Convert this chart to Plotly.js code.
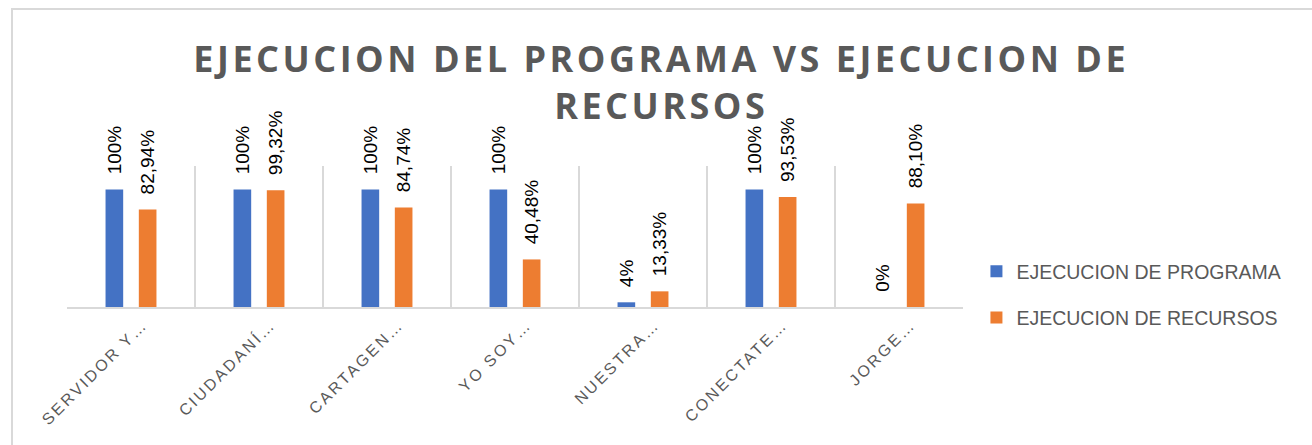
<!DOCTYPE html>
<html>
<head>
<meta charset="utf-8">
<script src="https://cdn.plot.ly/plotly-3.0.1.min.js"></script>
<style>
  html, body { margin: 0; padding: 0; background: #fff; }
  #wrap { position: relative; width: 1312px; height: 445px; overflow: hidden; }
  #frame { position: absolute; left: 11px; top: 8px; width: 1400px; height: 500px;
           border-left: 2px solid #d9d9d9; border-top: 2px solid #d9d9d9; pointer-events: none; }
  #chart { position: absolute; left: 0; top: 0; width: 1312px; height: 445px; }
  #chart .gtitle { letter-spacing: 3.5px; }
  #chart .xtick text { letter-spacing: 2.5px; }
</style>
</head>
<body>
<div id="wrap">
  <div id="chart"></div>
  <div id="frame"></div>
</div>
<script>
const categories = ["SERVIDOR Y…", "CIUDADANÍ…", "CARTAGEN…", "YO SOY…", "NUESTRA…", "CONECTATE…", "JORGE…"];
const ejecucionPrograma = [1, 1, 1, 1, 0.04, 1, 0];
const ejecucionRecursos = [0.8294, 0.9932, 0.8474, 0.4048, 0.1333, 0.9353, 0.8810];
const seriesNames = ["EJECUCION DE PROGRAMA", "EJECUCION DE RECURSOS"];
const titleText = "EJECUCION DEL PROGRAMA VS EJECUCION DE<br>RECURSOS";

const labelFont = {family: "Liberation Sans, Arial, sans-serif", size: 19, color: "#000000"};
const pad = "\u00a0\u00a0\u200a";

const traces = [
  {
    type: "bar", name: seriesNames[0], x: categories, y: ejecucionPrograma,
    marker: {color: "#4472C4"},
    texttemplate: pad + "%{y:.0%}", textposition: "outside", textangle: -90,
    textfont: labelFont, constraintext: "none", cliponaxis: false,
    legendgroup: "a", hoverinfo: "x+y"
  },
  {
    type: "bar", name: seriesNames[1], x: categories, y: ejecucionRecursos,
    marker: {color: "#ED7D31"},
    texttemplate: pad + "%{y:.2%}", textposition: "outside", textangle: -90,
    textfont: labelFont, constraintext: "none", cliponaxis: false,
    legendgroup: "b", hoverinfo: "x+y"
  }
];

const layout = {
  width: 1312, height: 445,
  paper_bgcolor: "rgba(0,0,0,0)", plot_bgcolor: "rgba(0,0,0,0)",
  separators: ",.",
  margin: {l: 67, r: 349, t: 166, b: 138},
  title: {
    text: titleText,
    font: {family: "Open Sans, Liberation Sans, sans-serif", size: 36, color: "#595959", weight: "bold"},
    x: 0.504, xref: "container", xanchor: "center",
    y: 1 - 72 / 445, yref: "container", yanchor: "top"
  },
  barmode: "group", bargap: 0.48, bargroupgap: 0.47,
  showlegend: true,
  legend: {
    x: 1.015, xanchor: "left", y: 0.39, yanchor: "top",
    font: {family: "Liberation Sans, Arial, sans-serif", size: 19.5, color: "#595959"},
    traceorder: "grouped", tracegroupgap: 18, itemwidth: 30
  },
  xaxis: {
    type: "category", tickson: "boundaries",
    showgrid: true, gridcolor: "#d9d9d9", gridwidth: 1.5,
    showline: true, linecolor: "#d9d9d9", linewidth: 2,
    ticks: "", tickangle: -45, ticklabelshift: 12,
    tickfont: {family: "Liberation Sans, Arial, sans-serif", size: 16, color: "#595959"},
    fixedrange: true
  },
  yaxis: {
    range: [0, 1.2], visible: false, showgrid: false, zeroline: false, fixedrange: true
  }
};

Plotly.newPlot("chart", traces, layout, {displayModeBar: false, staticPlot: true});
</script>
</body>
</html>
